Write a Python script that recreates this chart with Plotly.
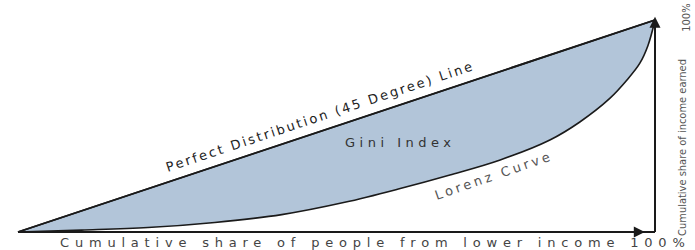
import plotly.graph_objects as go

# Data (fractions of cumulative population / income)
equality_x = [0.0, 1.0]
equality_y = [0.0, 1.0]

lorenz_x = [0.0, 0.100, 0.204, 0.309, 0.414, 0.513, 0.600, 0.678, 0.757,
            0.835, 0.882, 0.929, 0.956, 0.976, 0.989, 1.0]
lorenz_y = [0.0, 0.009, 0.021, 0.045, 0.082, 0.140, 0.205, 0.269, 0.340,
            0.434, 0.519, 0.630, 0.717, 0.795, 0.880, 1.0]

x_title = "Cumulative share of people from lower income 100%"
y_title = "Cumulative share of income earned"
y_top_label = "100%"
line_label = "Perfect Distribution (45 Degree) Line"
area_label = "Gini Index"
curve_label = "Lorenz Curve"

fill_color = "#b2c5d9"
ink = "#1a1a1a"

fig = go.Figure()

# equality line (first, so the Lorenz trace can fill up to it)
fig.add_trace(go.Scatter(
    x=equality_x, y=equality_y, mode="lines",
    line=dict(color=ink, width=1.8), showlegend=False))

fig.add_trace(go.Scatter(
    x=lorenz_x, y=lorenz_y, mode="lines",
    fill="tonexty", fillcolor=fill_color,
    line=dict(color=ink, width=1.6, shape="spline", smoothing=1.0),
    showlegend=False))

# redraw the equality line on top of the fill
fig.add_trace(go.Scatter(
    x=equality_x, y=equality_y, mode="lines",
    line=dict(color=ink, width=1.8), showlegend=False))

# axes lines
fig.add_shape(type="line", x0=0, y0=0, x1=1.0, y1=0,
              line=dict(color=ink, width=2))
fig.add_shape(type="line", x0=1.0, y0=0, x1=1.0, y1=1.0,
              line=dict(color=ink, width=2))

# arrowheads
fig.add_annotation(x=0.984, y=0, ax=0.9, ay=0, xref="x", yref="y",
                   axref="x", ayref="y", text="", showarrow=True,
                   arrowhead=2, arrowsize=1.1, arrowwidth=2, arrowcolor=ink)
fig.add_annotation(x=1.0, y=1.015, ax=1.0, ay=0.9, xref="x", yref="y",
                   axref="x", ayref="y", text="", showarrow=True,
                   arrowhead=2, arrowsize=1.1, arrowwidth=2, arrowcolor=ink)

font_main = "DejaVu Sans, Verdana, sans-serif"
font_narrow = "Liberation Sans Narrow, DejaVu Sans Condensed, sans-serif"

fig.add_annotation(x=0.474, y=0.545, text=f'<span style="letter-spacing:2.3px">{line_label}</span>',
                   showarrow=False, textangle=-18.4,
                   font=dict(family=font_main, size=13, color="#222"))
fig.add_annotation(x=0.60, y=0.42, text=f'<span style="letter-spacing:4.5px">{area_label}</span>',
                   showarrow=False,
                   font=dict(family=font_main, size=13, color="#333"))
fig.add_annotation(x=0.747, y=0.265, text=f'<span style="letter-spacing:3.2px">{curve_label}</span>',
                   showarrow=False, textangle=-19,
                   font=dict(family=font_main, size=13, color="#555"))
fig.add_annotation(x=0.562, y=-0.048, text=f'<span style="letter-spacing:5.8px">{x_title}</span>',
                   showarrow=False,
                   font=dict(family=font_main, size=13, color="#444"))
fig.add_annotation(x=1.042, y=0.40, text=y_title, showarrow=False, textangle=-90,
                   font=dict(family=font_narrow, size=11, color="#555"))
fig.add_annotation(x=1.05, y=1.01, text=y_top_label, showarrow=False, textangle=-90,
                   font=dict(family=font_narrow, size=11, color="#555"))

fig.update_layout(
    width=695, height=250,
    margin=dict(l=0, r=0, t=0, b=0),
    paper_bgcolor="white", plot_bgcolor="white",
    xaxis=dict(range=[-0.02826, 1.0628], visible=False, fixedrange=True),
    yaxis=dict(range=[-0.0849, 1.0943], visible=False, fixedrange=True),
    showlegend=False,
)

fig.write_html("out.html",
               config={"displayModeBar": False},
               post_script="document.body.style.margin='0';document.body.style.overflow='hidden';")
